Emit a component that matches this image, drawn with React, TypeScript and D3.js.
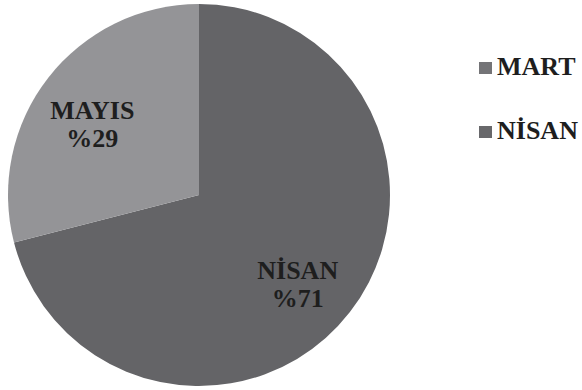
import React from "react";
import * as d3 from "d3";

// Slice data (percent share per month)
const sliceLabels = ["NİSAN", "MAYIS"];
const sliceValues = [71, 29];
const sliceColors = ["#646467", "#949497"];

// Legend entries
const legendLabels = ["MART", "NİSAN"];
const legendColors = ["#747477", "#68686b"];

const W = 582;
const H = 390;
const cx = 199;
const cy = 195;
const R = 191;
const FONT = "'Times New Roman', 'Liberation Serif', serif";

export default function App() {
  const pie = d3
    .pie<number>()
    .sort(null)
    .startAngle(0)
    .endAngle(2 * Math.PI)
    .value((d) => d);
  const arcs = pie(sliceValues);
  const arc = d3.arc<d3.PieArcDatum<number>>().innerRadius(0).outerRadius(R);
  const labelArc = d3
    .arc<d3.PieArcDatum<number>>()
    .innerRadius(130)
    .outerRadius(130);

  const textStyle = {
    fontFamily: FONT,
    fontWeight: 700,
    fontSize: "26px",
  } as React.CSSProperties;

  return (
    <>
      <style>{"body{margin:0}"}</style>
      <svg width={W} height={H} style={{ display: "block" }}>
        <rect width={W} height={H} fill="#ffffff" />
        <g transform={`translate(${cx},${cy})`}>
          {arcs.map((a, i) => (
            <path key={i} d={arc(a) || ""} fill={sliceColors[i]} />
          ))}
          {arcs.map((a, i) => {
            const [lx, ly] = labelArc.centroid(a);
            return (
              <text key={"l" + i} textAnchor="middle" style={textStyle} fill="#1e1e1e">
                <tspan x={lx - 4} y={ly + 4}>
                  {sliceLabels[i]}
                </tspan>
                <tspan x={lx - 4} y={ly + 32}>
                  {"%" + sliceValues[i]}
                </tspan>
              </text>
            );
          })}
        </g>
        <g>
          {legendLabels.map((t, i) => {
            const y = 75 + i * 64;
            return (
              <g key={"lg" + i}>
                <rect x={479} y={y - 13} width={13} height={12} fill={legendColors[i]} />
                <text x={497} y={y} style={textStyle} fill="#1e1e1e">
                  {t}
                </text>
              </g>
            );
          })}
        </g>
      </svg>
    </>
  );
}
